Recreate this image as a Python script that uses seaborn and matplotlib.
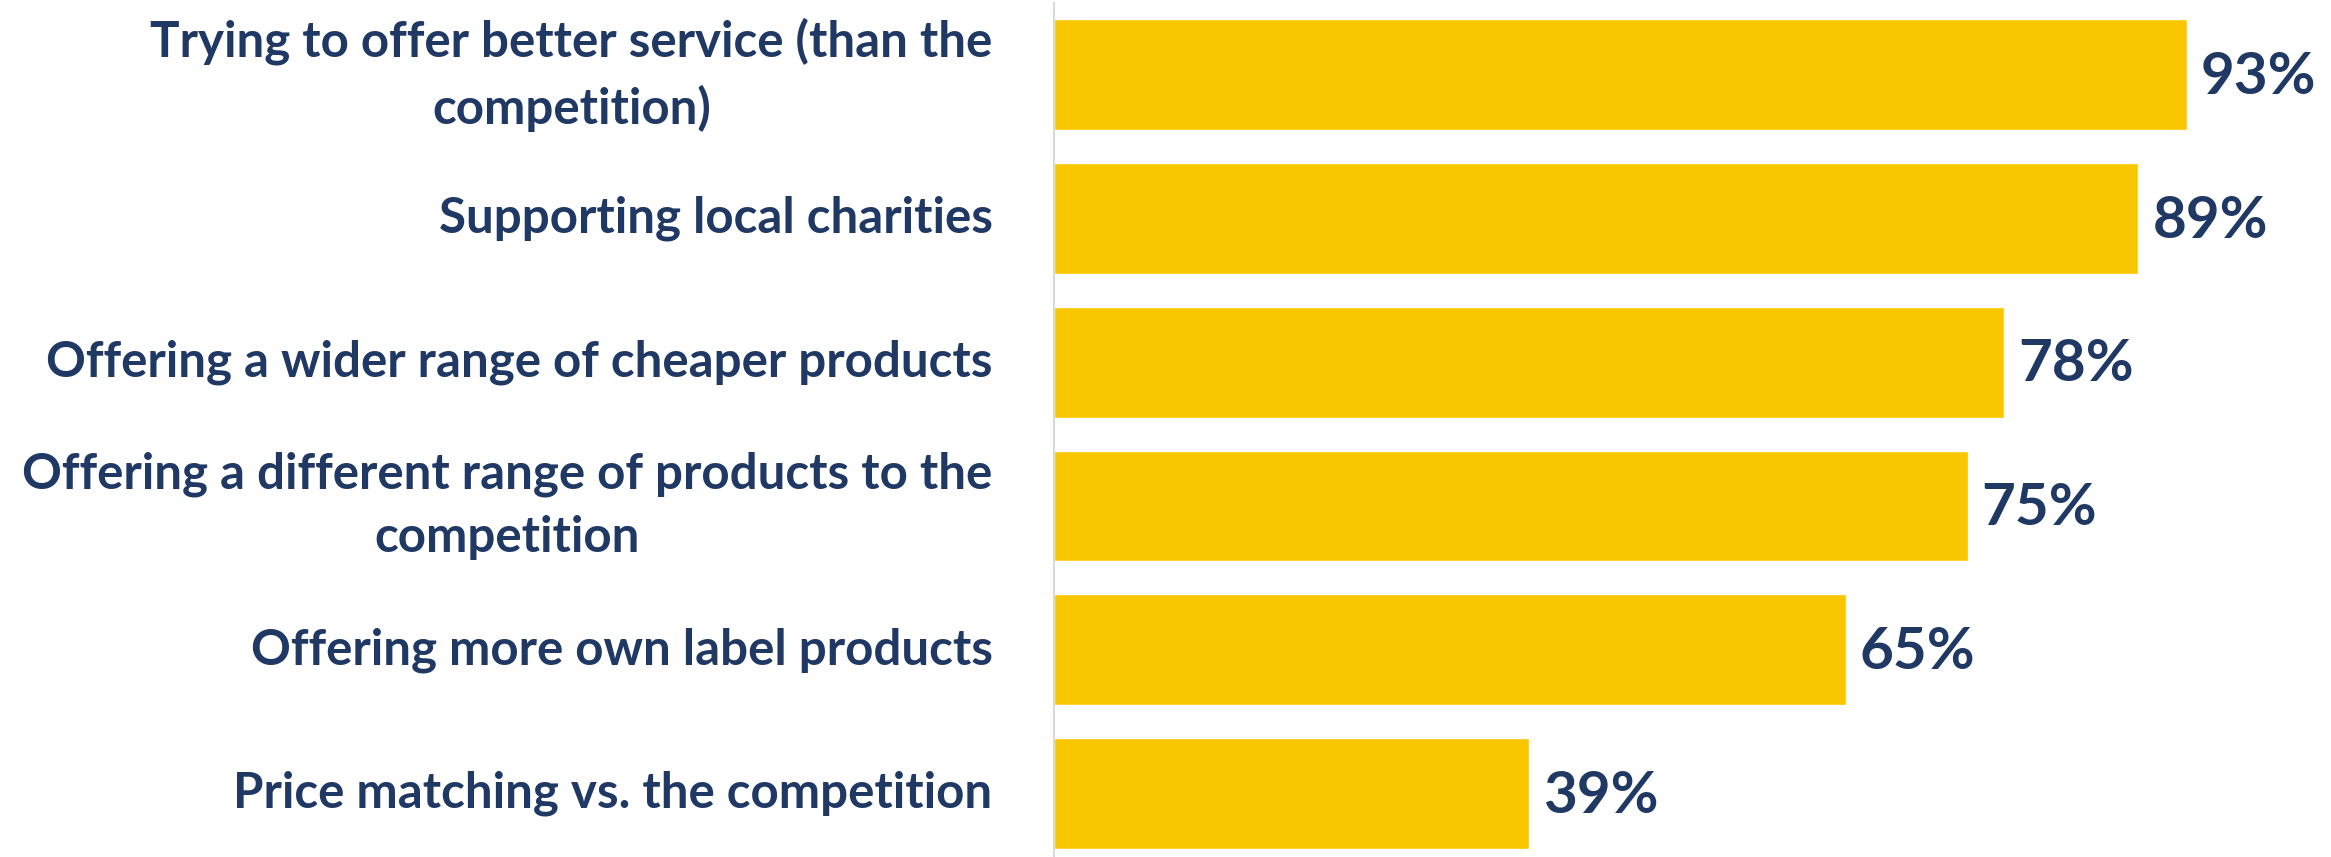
import matplotlib
matplotlib.use("Agg")
import matplotlib.pyplot as plt
import seaborn as sns
import pandas as pd

categories = [
    "Trying to offer better service (than the\ncompetition)",
    "Supporting local charities",
    "Offering a wider range of cheaper products",
    "Offering a different range of products to the\ncompetition",
    "Offering more own label products",
    "Price matching vs. the competition",
]
values = [93, 89, 78, 75, 65, 39]
value_labels = ["93%", "89%", "78%", "75%", "65%", "39%"]

BAR = "#F9C700"
NAVY = "#1F3864"

sns.set_theme(style="white")
plt.rcParams["font.family"] = ["Lato", "DejaVu Sans"]

df = pd.DataFrame({"category": categories, "value": values})

fig = plt.figure(figsize=(23.31, 8.57), dpi=100)
ax = fig.add_axes([0.452, -0.01, 0.548, 1.007])

sns.barplot(data=df, y="category", x="value", orient="h", color=BAR,
            width=0.77, saturation=1, ax=ax)

ax.set_xlim(0, 104.8)
ax.set_ylim(5.5, -0.5)
ax.set_xlabel("")
ax.set_ylabel("")
ax.set_xticks([])

for s in ["top", "right", "bottom"]:
    ax.spines[s].set_visible(False)
ax.spines["left"].set_color("#D9D9D9")
ax.spines["left"].set_linewidth(1.5)

# category labels, right aligned against the axis, wrapped lines centred
ax.tick_params(axis="y", length=0, pad=44)
ax.set_yticks(range(len(categories)))
ax.set_yticklabels(categories, fontsize=35.5, fontweight="bold", color=NAVY,
                   multialignment="center", linespacing=1.5, va="center")

for i, (v, lab) in enumerate(zip(values, value_labels)):
    ax.annotate(lab, xy=(v, i), xytext=(10, -2), textcoords="offset points",
                ha="left", va="center", fontsize=42, fontweight="bold", color=NAVY)

fig.savefig("out.png", dpi=100)
